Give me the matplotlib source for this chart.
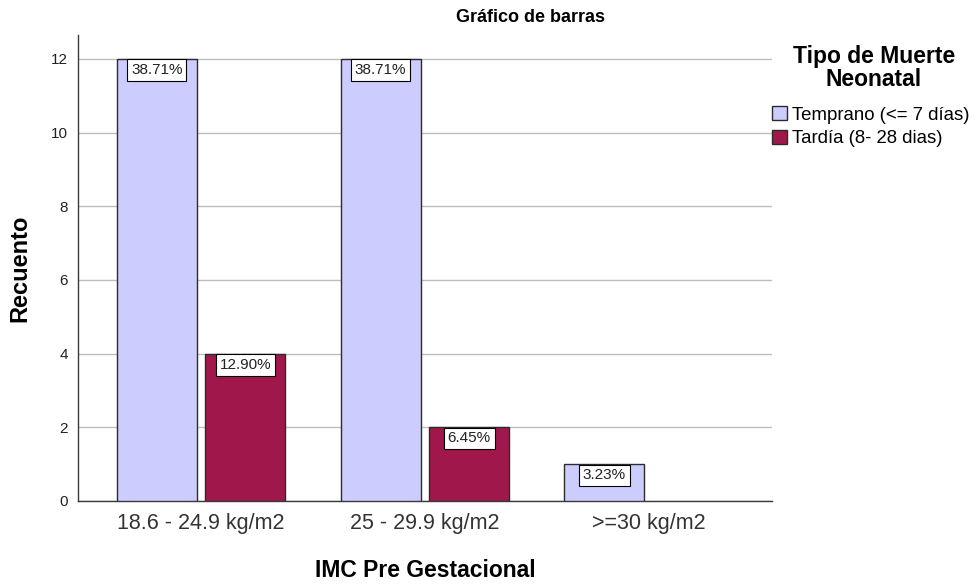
import matplotlib.pyplot as plt
import numpy as np

plt.rcParams["font.family"] = ["Liberation Sans", "DejaVu Sans"]

categories = ["18.6 - 24.9 kg/m2", "25 - 29.9 kg/m2", ">=30 kg/m2"]
series_names = ["Temprano (<= 7 días)", "Tardía (8- 28 dias)"]
temprano = [12, 12, 1]
tardia = [4, 2, 0]
temprano_pct = ["38.71%", "38.71%", "3.23%"]
tardia_pct = ["12.90%", "6.45%", None]

colors = ["#CCCCFF", "#A0184B"]


def main():
    fig = plt.figure(figsize=(9.77, 5.85), dpi=100)
    ax = fig.add_axes([0.0798, 0.1436, 0.7102, 0.7966])

    x = np.arange(len(categories))
    width = 0.357
    offsets = [-0.198, 0.198]

    for vals, pcts, off, col, name in zip([temprano, tardia], [temprano_pct, tardia_pct],
                                          offsets, colors, series_names):
        xs, hs, labs = [], [], []
        for xi, v, p in zip(x, vals, pcts):
            if v > 0:
                xs.append(xi + off)
                hs.append(v)
                labs.append(p)
        ax.bar(xs, hs, width=width, color=col, edgecolor="#2b2b2b", linewidth=1.0,
               label=name, zorder=3)
        for xi, h, lab in zip(xs, hs, labs):
            ax.annotate(lab, (xi, h), xytext=(0, -3.0), textcoords="offset points",
                        ha="center", va="top", fontsize=11, color="#222222", zorder=5,
                        bbox=dict(boxstyle="square,pad=0.25", fc="white", ec="black", lw=0.8))

    ax.set_xlim(-0.55, 2.55)
    ax.set_ylim(0, 12.65)
    ax.set_yticks(range(0, 13, 2))
    ax.set_xticks(x)
    ax.set_xticklabels(categories, fontsize=15.5, color="#333333")
    ax.tick_params(axis="y", length=0, labelsize=11, pad=7, labelcolor="#222222")
    ax.tick_params(axis="x", length=0, pad=9)
    ax.yaxis.grid(True, color="#bdbdbd", linewidth=1.0, zorder=0)
    ax.set_axisbelow(True)

    for s in ["top", "right"]:
        ax.spines[s].set_visible(False)
    for s in ["left", "bottom"]:
        ax.spines[s].set_color("#3a3a3a")
        ax.spines[s].set_linewidth(1.0)

    ax.set_ylabel("Recuento", fontsize=17, fontweight="bold", labelpad=14)
    ax.set_xlabel("IMC Pre Gestacional", fontsize=16.5, fontweight="bold", labelpad=18)

    fig.text(530 / 977, 1 - 17 / 585, "Gráfico de barras", fontsize=13,
             fontweight="bold", ha="center", va="center")

    fig.text(874 / 977, 1 - 68 / 585, "Tipo de Muerte\nNeonatal", fontsize=16.5,
             fontweight="bold", ha="center", va="center", multialignment="center",
             linespacing=1.0)

    ax.legend(loc="upper left", bbox_to_anchor=(772 / 977, 1 - 106 / 585),
              bbox_transform=fig.transFigure, frameon=False, fontsize=13.4,
              handlelength=0.8, handleheight=0.8, handletextpad=0.3,
              borderaxespad=0.0, borderpad=0.0, labelspacing=0.33)

    fig.savefig("out.png", dpi=100)


if __name__ == "__main__":
    main()
